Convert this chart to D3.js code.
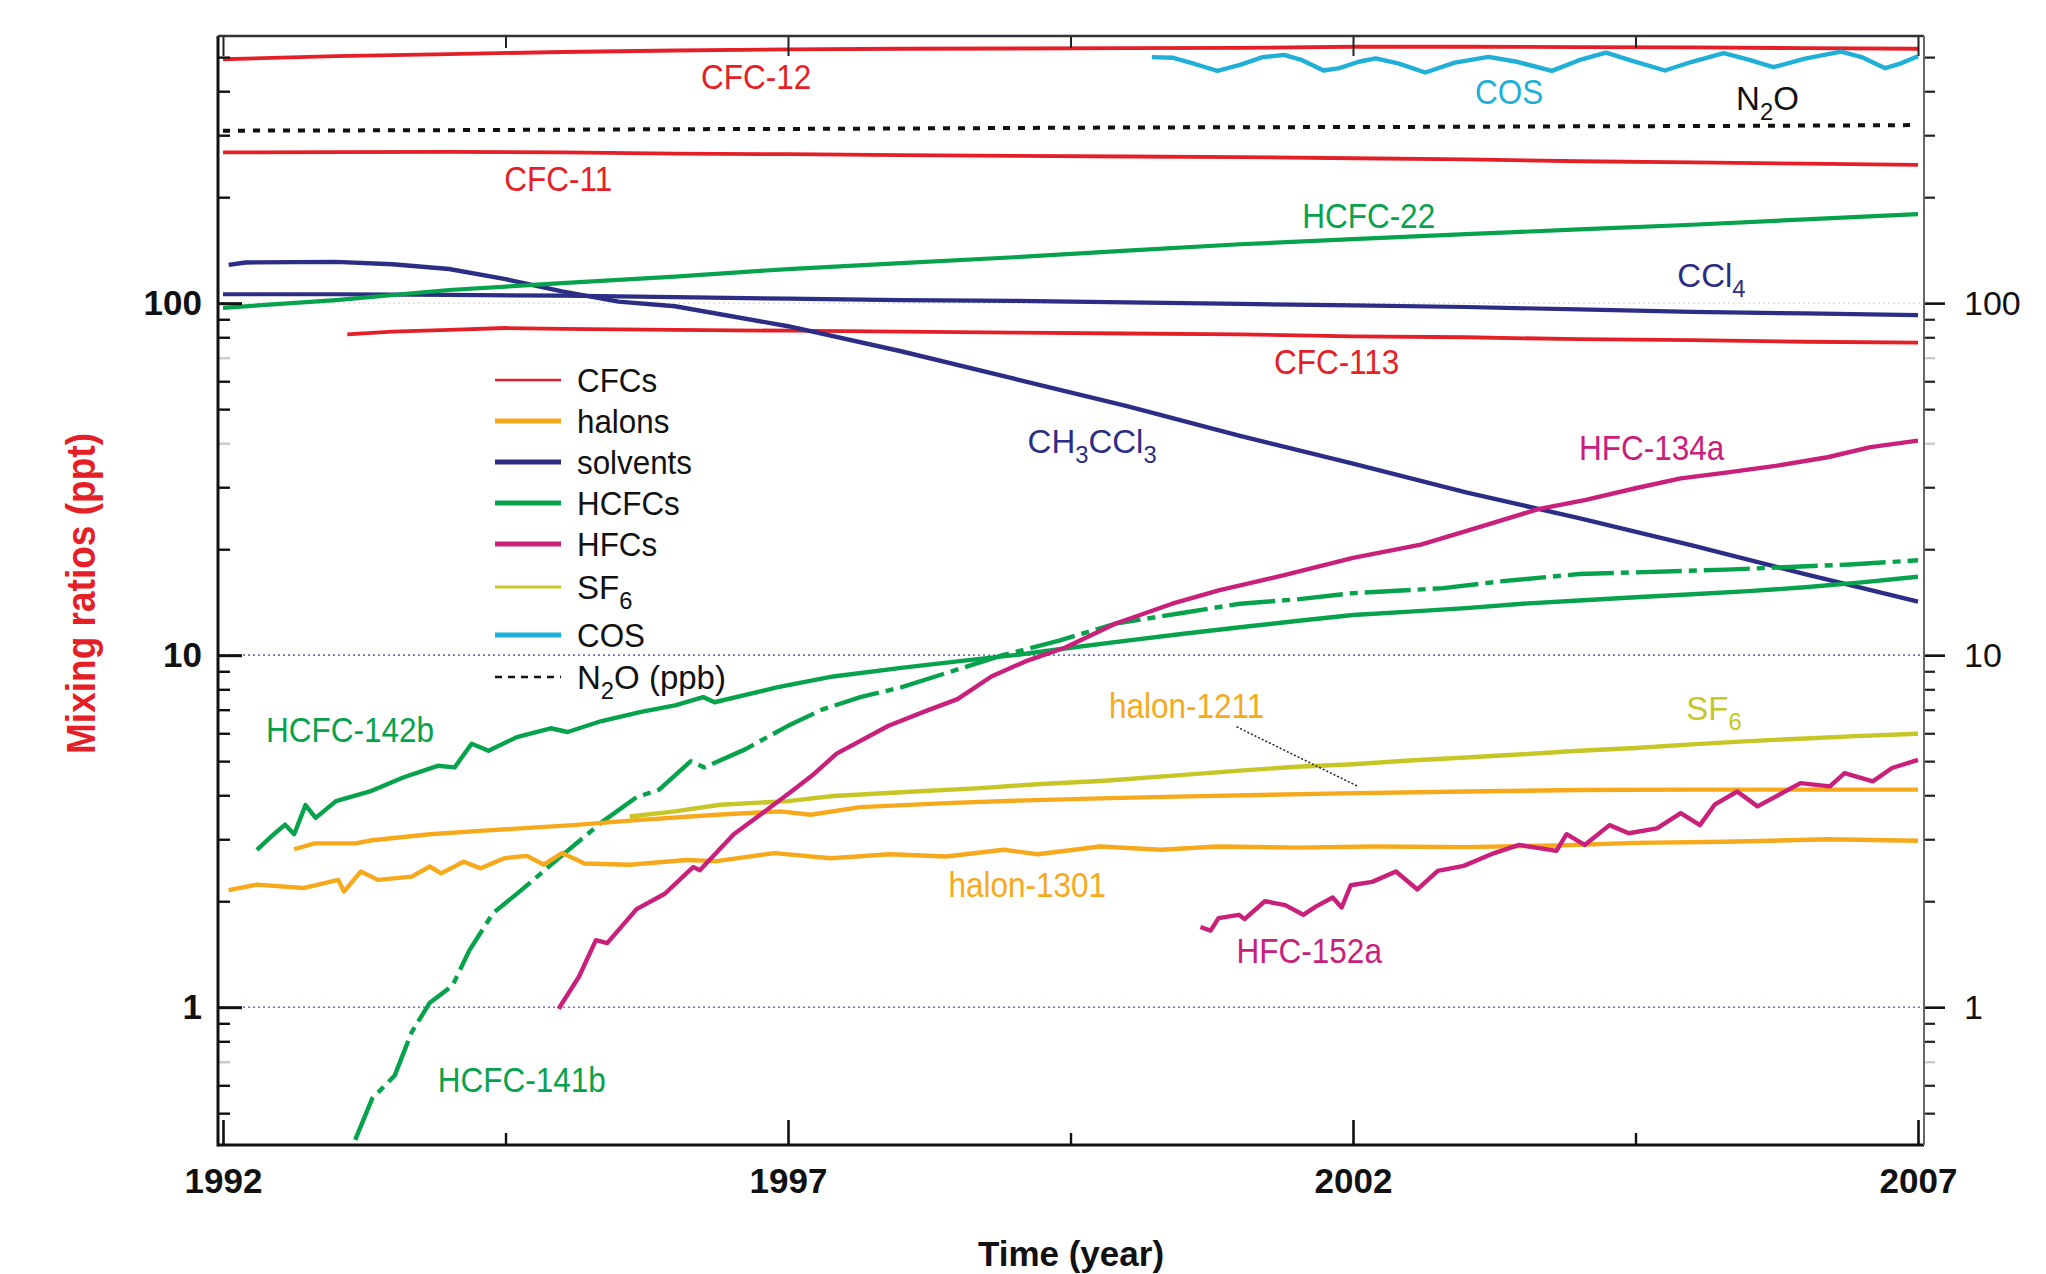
<!DOCTYPE html>
<html>
<head>
<meta charset="utf-8">
<script src="https://cdn.jsdelivr.net/npm/d3@7"></script>
<style>
  html, body { margin: 0; padding: 0; background: #fff; }
  svg { display: block; }
  text { font-family: "Liberation Sans", Arial, Helvetica, sans-serif; }
</style>
</head>
<body>
<svg id="chart"></svg>
<script>
// ---------- data: mixing ratios (ppt, N2O in ppb) ----------
const years = [1992, 1993, 1994, 1995, 1996, 1997, 1998, 1999, 2000, 2001, 2002, 2003, 2004, 2005, 2006, 2007];
const cfc12  = [493, 503, 510, 517, 522, 526, 528, 529, 530, 531, 535, 535, 534, 533, 530, 528];
const n2o    = [309, 309.5, 310, 311, 312, 312.5, 313.5, 314.5, 315.5, 316, 316.5, 317, 318, 318.5, 319.5, 320.5];
const cfc11  = [268, 268.5, 269, 268, 266, 265, 263.5, 262, 261, 260, 258, 256, 253, 251, 249, 247];
const ccl4   = [106, 106, 105.5, 105, 104, 103, 102, 101.5, 100.5, 99.5, 98.5, 97.5, 96, 94.5, 93.5, 92.5];
const hcfc22 = [97, 102, 109, 114, 119, 125, 130, 135, 141, 147, 152, 157, 162, 167, 173, 179];

const cfc113 = [[1993.1, 81.5], [1993.5, 83], [1994, 84], [1994.5, 85], [1995, 84.5], [1996, 84], [1997, 83.5],
  [1998, 83], [1999, 82.5], [2000, 82], [2001, 81.5], [2002, 80.5], [2003, 80], [2004, 79], [2005, 78.5],
  [2006, 77.7], [2007, 77.2]];

const ch3ccl3 = [[1992.05, 128.5], [1992.2, 130.5], [1993, 131], [1993.5, 129], [1994, 125], [1994.5, 117],
  [1995, 108], [1995.5, 101], [1996, 98], [1997, 86], [1998, 73], [1999, 61], [2000, 51], [2001, 42],
  [2002, 35], [2003, 29], [2004, 24.5], [2005, 20.5], [2006, 17], [2007, 14.2]];

const hcfc142b = [[1992.3, 2.8], [1992.45, 3.1], [1992.55, 3.3], [1992.63, 3.1], [1992.73, 3.75], [1992.82, 3.45],
  [1993.0, 3.85], [1993.3, 4.1], [1993.6, 4.5], [1993.9, 4.85], [1994.05, 4.8], [1994.2, 5.6], [1994.35, 5.35],
  [1994.6, 5.85], [1994.9, 6.2], [1995.05, 6.05], [1995.35, 6.5], [1995.7, 6.9], [1996.0, 7.2], [1996.25, 7.6],
  [1996.35, 7.35], [1996.9, 8.1], [1997.4, 8.7], [1998.0, 9.2], [1998.5, 9.6], [1999.0, 10.0], [1999.5, 10.5],
  [2000.0, 11.0], [2000.5, 11.5], [2001.0, 12.0], [2001.5, 12.5], [2002.0, 13.0], [2002.5, 13.3], [2003.0, 13.6],
  [2003.5, 14.0], [2004.0, 14.3], [2004.5, 14.6], [2005.0, 14.9], [2005.5, 15.2], [2006.0, 15.6], [2006.5, 16.1],
  [2007.0, 16.7]];

const hcfc141b = [[1993.17, 0.42], [1993.32, 0.55], [1993.52, 0.64], [1993.67, 0.85], [1993.83, 1.03],
  [1994.03, 1.15], [1994.18, 1.45], [1994.39, 1.85], [1994.64, 2.15], [1995.0, 2.7], [1995.35, 3.35],
  [1995.66, 3.95], [1995.86, 4.15], [1996.14, 5.0], [1996.26, 4.8], [1996.62, 5.4], [1997.0, 6.3], [1997.3, 7.0],
  [1997.64, 7.6], [1998.0, 8.1], [1998.45, 9.0], [1998.9, 10.0], [1999.4, 11.0], [1999.9, 12.3], [2000.5, 13.2],
  [2001.0, 14.0], [2001.5, 14.4], [2002.0, 15.0], [2002.8, 15.5], [2003.3, 16.2], [2004.0, 17.0], [2005.3, 17.5],
  [2006.4, 18.1], [2007.0, 18.6]];

const hfc134a = [[1994.97, 0.99], [1995.15, 1.22], [1995.3, 1.55], [1995.4, 1.52], [1995.66, 1.9], [1995.91, 2.1],
  [1996.16, 2.5], [1996.22, 2.45], [1996.52, 3.1], [1996.77, 3.55], [1997.03, 4.1], [1997.23, 4.6], [1997.43, 5.25],
  [1997.89, 6.3], [1998.2, 6.9], [1998.5, 7.5], [1998.8, 8.7], [1999.1, 9.6], [1999.45, 10.5], [1999.9, 12.3],
  [2000.4, 14.0], [2000.82, 15.3], [2001.4, 16.9], [2002.0, 18.9], [2002.6, 20.6], [2003.0, 22.5], [2003.64, 26.0],
  [2004.06, 27.6], [2004.5, 29.8], [2004.9, 31.8], [2005.3, 33.0], [2005.74, 34.5], [2006.2, 36.5], [2006.58, 39.0],
  [2007.0, 40.7]];

const hfc152a = [[2000.65, 1.69], [2000.74, 1.65], [2000.81, 1.79], [2000.99, 1.83], [2001.04, 1.78], [2001.22, 2.0],
  [2001.4, 1.95], [2001.56, 1.83], [2001.67, 1.93], [2001.82, 2.05], [2001.9, 1.92], [2001.98, 2.22], [2002.17, 2.27],
  [2002.38, 2.43], [2002.57, 2.16], [2002.75, 2.44], [2002.98, 2.52], [2003.25, 2.74], [2003.47, 2.89], [2003.8, 2.78],
  [2003.89, 3.1], [2004.05, 2.89], [2004.27, 3.29], [2004.44, 3.12], [2004.69, 3.22], [2004.9, 3.56], [2005.07, 3.29],
  [2005.2, 3.76], [2005.4, 4.1], [2005.58, 3.72], [2005.96, 4.33], [2006.22, 4.24], [2006.35, 4.62], [2006.6, 4.38],
  [2006.77, 4.78], [2007.0, 5.04]];

const halon1211 = [[1992.63, 2.81], [1992.81, 2.92], [1993.17, 2.92], [1993.32, 2.98], [1993.83, 3.1], [1994.34, 3.18],
  [1995.1, 3.29], [1995.66, 3.4], [1996.37, 3.52], [1996.93, 3.6], [1997.2, 3.52], [1997.64, 3.7], [1998.4, 3.8],
  [1999.0, 3.86], [1999.76, 3.92], [2000.54, 3.97], [2001.9, 4.05], [2003.0, 4.1], [2004.0, 4.14], [2005.0, 4.15],
  [2006.0, 4.15], [2007.0, 4.15]];

const halon1301 = [[1992.05, 2.15], [1992.3, 2.23], [1992.71, 2.18], [1993.02, 2.3], [1993.07, 2.13], [1993.22, 2.43],
  [1993.37, 2.3], [1993.67, 2.35], [1993.83, 2.51], [1993.93, 2.4], [1994.13, 2.59], [1994.28, 2.48], [1994.49, 2.65],
  [1994.69, 2.69], [1994.84, 2.54], [1995.0, 2.74], [1995.2, 2.56], [1995.6, 2.54], [1996.1, 2.62], [1996.37, 2.6],
  [1996.88, 2.74], [1997.38, 2.65], [1997.9, 2.72], [1998.4, 2.68], [1998.91, 2.8], [1999.21, 2.72], [1999.76, 2.86],
  [2000.3, 2.8], [2000.8, 2.86], [2001.5, 2.84], [2002.2, 2.86], [2003.0, 2.85], [2003.8, 2.88], [2004.5, 2.93],
  [2005.3, 2.95], [2006.2, 3.0], [2007.0, 2.97]];

const sf6 = [[1995.6, 3.48], [1996, 3.6], [1996.4, 3.76], [1997, 3.85], [1997.4, 3.98], [1998, 4.08], [1998.7, 4.19],
  [1999.2, 4.3], [1999.8, 4.4], [2000.5, 4.57], [2001, 4.7], [2001.5, 4.82], [2002, 4.9], [2002.5, 5.02], [2003, 5.12],
  [2003.5, 5.23], [2004, 5.35], [2004.5, 5.45], [2005, 5.58], [2005.5, 5.7], [2006, 5.8], [2006.5, 5.9], [2007, 5.98]];

const cos = [[2000.22, 500], [2000.4, 498], [2000.6, 478], [2000.8, 457], [2001.0, 475], [2001.2, 500], [2001.39, 507],
  [2001.55, 490], [2001.74, 458], [2001.88, 465], [2002.05, 485], [2002.2, 496], [2002.4, 480], [2002.64, 452],
  [2002.9, 482], [2003.2, 501], [2003.45, 485], [2003.76, 457], [2004.0, 490], [2004.24, 515], [2004.45, 490],
  [2004.76, 458], [2005.0, 485], [2005.28, 513], [2005.5, 492], [2005.72, 468], [2006.0, 495], [2006.32, 518],
  [2006.5, 500], [2006.71, 465], [2006.85, 480], [2007.0, 503]];

const yMajor = [1, 10, 100];
const xMajor = [1992, 1997, 2002, 2007];
const xMinor = [1994.5, 1999.5, 2004.5];

// ---------- colours ----------
const C = {
  cfc: "#e41f27", halon: "#f6a91b", solvent: "#2c2e86", hcfc: "#07a24c",
  hfc: "#c8207b", sf6: "#c6c626", cos: "#1fafd7", n2o: "#111111"
};

const W = 2046, H = 1274;
const svg = d3.select("#chart").attr("width", W).attr("height", H);

const x = d3.scaleLinear().domain([1992, 2007]).range([223, 1918]);
const y = d3.scaleLog().domain([0.406, 574]).range([1145, 36]);

const plotLeft = x(1992) - 5, plotRight = x(2007) + 6;
const plotTop = y.range()[1], plotBottom = y.range()[0];

// minor log ticks inside the domain
const yMinor = [];
[0.1, 1, 10, 100].forEach(dec => {
  for (let k = 2; k <= 9; k++) {
    const v = +(dec * k).toPrecision(3);
    if (v > 0.406 && v < 574) yMinor.push(v);
  }
});
const grayTick = v => v === 0.7 || v === 40 || v === 70;

// ---------- gridlines ----------
svg.append("g").selectAll("line").data([1, 10]).join("line")
  .attr("x1", plotLeft).attr("x2", plotRight)
  .attr("y1", d => y(d)).attr("y2", d => y(d))
  .attr("stroke", "#6f6fbf").attr("stroke-width", 1.6).attr("stroke-dasharray", "2,3");
svg.append("line")
  .attr("x1", plotLeft).attr("x2", plotRight).attr("y1", y(100)).attr("y2", y(100))
  .attr("stroke", "#d6d6dc").attr("stroke-width", 1.4).attr("stroke-dasharray", "2,3");

// ---------- series ----------
const yearly = arr => years.map((yr, i) => [yr, arr[i]]);
const series = [
  { data: yearly(cfc12), color: C.cfc, w: 3.8 },
  { data: yearly(cfc11), color: C.cfc, w: 3.8 },
  { data: cfc113, color: C.cfc, w: 3.8 },
  { data: yearly(n2o), color: C.n2o, w: 4, dash: "7,8" },
  { data: yearly(ccl4), color: C.solvent, w: 4.2 },
  { data: ch3ccl3, color: C.solvent, w: 4.4 },
  { data: yearly(hcfc22), color: C.hcfc, w: 4.2 },
  { data: hcfc142b, color: C.hcfc, w: 4.4 },
  { data: hcfc141b, color: C.hcfc, w: 4.4, dash: "46,7,8,7" },
  { data: halon1301, color: C.halon, w: 4.4 },
  { data: halon1211, color: C.halon, w: 4.4 },
  { data: sf6, color: C.sf6, w: 4.4 },
  { data: hfc134a, color: C.hfc, w: 4.4 },
  { data: hfc152a, color: C.hfc, w: 4.4 },
  { data: cos, color: C.cos, w: 4.4 }
];

svg.append("clipPath").attr("id", "plot-clip")
  .append("rect").attr("x", plotLeft).attr("y", plotTop)
  .attr("width", plotRight - plotLeft).attr("height", plotBottom - plotTop);

const line = d3.line().x(d => x(d[0])).y(d => y(d[1]));
svg.append("g").attr("clip-path", "url(#plot-clip)")
  .selectAll("path").data(series).join("path")
  .attr("d", d => line(d.data))
  .attr("fill", "none")
  .attr("stroke", d => d.color)
  .attr("stroke-width", d => d.w)
  .attr("stroke-linejoin", "round")
  .attr("stroke-dasharray", d => d.dash || null);

// leader line for halon-1211
svg.append("line")
  .attr("x1", x(2000.97)).attr("y1", y(6.26))
  .attr("x2", x(2002.05)).attr("y2", y(4.23))
  .attr("stroke", "#222").attr("stroke-width", 1.5).attr("stroke-dasharray", "2,2");

// ---------- axes ----------
function styleAxis(g, color, width) {
  g.select(".domain").remove();
  g.selectAll(".tick line").attr("stroke", color).attr("stroke-width", width);
}

// left (ticks inward, bold labels)
svg.append("g").attr("transform", `translate(${plotLeft},0)`)
  .call(d3.axisLeft(y).tickValues(yMinor).tickSize(-12).tickFormat(""))
  .call(g => styleAxis(g, "#111", 2.4))
  .call(g => g.selectAll(".tick line").attr("stroke", d => grayTick(d) ? "#c8c8c8" : "#111"));
svg.append("g").attr("transform", `translate(${plotLeft},0)`)
  .call(d3.axisLeft(y).tickValues(yMajor).tickSize(-24).tickPadding(16).tickFormat(d3.format("d")))
  .call(g => styleAxis(g, "#111", 3))
  .call(g => g.selectAll("text").attr("font-size", 35).attr("font-weight", "bold").attr("fill", "#111")
    .attr("font-family", "'Liberation Sans', Arial, sans-serif"));

// right (ticks outward, regular labels)
svg.append("g").attr("transform", `translate(${plotRight},0)`)
  .call(d3.axisRight(y).tickValues(yMinor).tickSize(11).tickFormat(""))
  .call(g => styleAxis(g, "#222", 2.2))
  .call(g => g.selectAll(".tick line").attr("stroke", d => grayTick(d) ? "#c8c8c8" : "#222"));
svg.append("g").attr("transform", `translate(${plotRight},0)`)
  .call(d3.axisRight(y).tickValues(yMajor).tickSize(21).tickPadding(19).tickFormat(d3.format("d")))
  .call(g => styleAxis(g, "#111", 2.6))
  .call(g => g.selectAll("text").attr("font-size", 34).attr("fill", "#111")
    .attr("font-family", "'Liberation Sans', Arial, sans-serif"));

// bottom (ticks inward)
svg.append("g").attr("transform", `translate(0,${plotBottom})`)
  .call(d3.axisBottom(x).tickValues(xMinor).tickSize(-12).tickFormat(""))
  .call(g => styleAxis(g, "#111", 2.4));
svg.append("g").attr("transform", `translate(0,${plotBottom})`)
  .call(d3.axisBottom(x).tickValues(xMajor).tickSize(-25).tickPadding(23).tickFormat(d3.format("d")))
  .call(g => styleAxis(g, "#111", 2.6))
  .call(g => g.selectAll("text").attr("font-size", 35).attr("font-weight", "bold").attr("fill", "#111")
    .attr("font-family", "'Liberation Sans', Arial, sans-serif"));

// top (ticks inward, no labels)
svg.append("g").attr("transform", `translate(0,${plotTop})`)
  .call(d3.axisTop(x).tickValues(xMinor).tickSize(-12).tickFormat(""))
  .call(g => styleAxis(g, "#222", 2));
svg.append("g").attr("transform", `translate(0,${plotTop})`)
  .call(d3.axisTop(x).tickValues(xMajor).tickSize(-20).tickFormat(""))
  .call(g => styleAxis(g, "#222", 2));

// frame
svg.append("line").attr("x1", plotLeft).attr("x2", plotLeft).attr("y1", plotTop).attr("y2", plotBottom + 1.5)
  .attr("stroke", "#111").attr("stroke-width", 3);
svg.append("line").attr("x1", plotLeft).attr("x2", plotRight).attr("y1", plotBottom).attr("y2", plotBottom)
  .attr("stroke", "#111").attr("stroke-width", 3);
svg.append("line").attr("x1", plotLeft).attr("x2", plotRight).attr("y1", plotTop).attr("y2", plotTop)
  .attr("stroke", "#333").attr("stroke-width", 2.4);
svg.append("line").attr("x1", plotRight).attr("x2", plotRight).attr("y1", plotTop).attr("y2", plotBottom)
  .attr("stroke", "#666").attr("stroke-width", 2);

// ---------- text helper (supports "_x" subscript parts) ----------
function addText(g, parts, px, py, color, size, squeeze) {
  const t = g.append("text").attr("x", px).attr("y", py).attr("fill", color).attr("font-size", size);
  const hasSub = parts.some(p => p.startsWith("_"));
  let shifted = false;
  parts.forEach(p => {
    const sub = p.startsWith("_");
    const s = t.append("tspan").text(sub ? p.slice(1) : p);
    if (sub) { s.attr("font-size", size * 0.72).attr("dy", size * 0.3); shifted = true; }
    else if (shifted) { s.attr("dy", -size * 0.3); shifted = false; }
  });
  if (!hasSub && squeeze && squeeze !== 1) {
    const len = t.node().getComputedTextLength();
    t.attr("textLength", len * squeeze).attr("lengthAdjust", "spacingAndGlyphs");
  }
  return t;
}

// ---------- series labels (anchored in data coordinates) ----------
const labels = [
  { parts: ["CFC-12"], at: [1996.23, 406], color: C.cfc },
  { parts: ["CFC-11"], at: [1994.49, 208], color: C.cfc },
  { parts: ["CFC-113"], at: [2001.3, 62.9], color: C.cfc },
  { parts: ["HCFC-22"], at: [2001.55, 163.5], color: C.hcfc },
  { parts: ["CCl", "_4"], at: [2004.87, 111], color: C.solvent },
  { parts: ["COS"], at: [2003.08, 368], color: C.cos },
  { parts: ["N", "_2", "O"], at: [2005.39, 354], color: C.n2o },
  { parts: ["CH", "_3", "CCl", "_3"], at: [1999.12, 37.5], color: C.solvent },
  { parts: ["HFC-134a"], at: [2004.0, 35.9], color: C.hfc },
  { parts: ["SF", "_6"], at: [2004.95, 6.55], color: C.sf6 },
  { parts: ["halon-1211"], at: [1999.84, 6.64], color: C.halon },
  { parts: ["halon-1301"], at: [1998.42, 2.06], color: C.halon },
  { parts: ["HFC-152a"], at: [2000.97, 1.337], color: C.hfc },
  { parts: ["HCFC-142b"], at: [1992.38, 5.67], color: C.hcfc },
  { parts: ["HCFC-141b"], at: [1993.9, 0.575], color: C.hcfc }
];
const gl = svg.append("g");
labels.forEach(l => {
  const sized = l.parts.some(p => p.startsWith("_")) ? 33 : 35;
  addText(gl, l.parts, x(l.at[0]), y(l.at[1]), l.color, sized, 0.9);
});

// ---------- legend ----------
const legendItems = [
  { parts: ["CFCs"], color: C.cfc, w: 2.6 },
  { parts: ["halons"], color: C.halon, w: 5 },
  { parts: ["solvents"], color: C.solvent, w: 5 },
  { parts: ["HCFCs"], color: C.hcfc, w: 5 },
  { parts: ["HFCs"], color: C.hfc, w: 5 },
  { parts: ["SF", "_6"], color: C.sf6, w: 3.2 },
  { parts: ["COS"], color: C.cos, w: 5 },
  { parts: ["N", "_2", "O (ppb)"], color: C.n2o, w: 2.6, dash: "7,6" }
];
const legendRowY = [380, 421, 462, 503, 544, 587, 635, 677];
const lg = svg.append("g");
legendItems.forEach((item, i) => {
  const ly = legendRowY[i];
  lg.append("line").attr("x1", 495).attr("x2", 561).attr("y1", ly).attr("y2", ly)
    .attr("stroke", item.color).attr("stroke-width", item.w)
    .attr("stroke-dasharray", item.dash || null);
  addText(lg, item.parts, 577, ly + 12, "#111", 33, 0.95);
});

// ---------- axis titles ----------
svg.append("text")
  .attr("transform", `translate(95,${(433 + 754) / 2}) rotate(-90)`)
  .attr("text-anchor", "middle")
  .attr("font-size", 40).attr("font-weight", "bold").attr("fill", "#e41f27")
  .attr("textLength", 321).attr("lengthAdjust", "spacingAndGlyphs")
  .text("Mixing ratios (ppt)");

svg.append("text")
  .attr("x", (plotLeft + plotRight) / 2).attr("y", 1266)
  .attr("text-anchor", "middle")
  .attr("font-size", 35).attr("font-weight", "bold").attr("fill", "#111")
  .text("Time (year)");
</script>
</body>
</html>
